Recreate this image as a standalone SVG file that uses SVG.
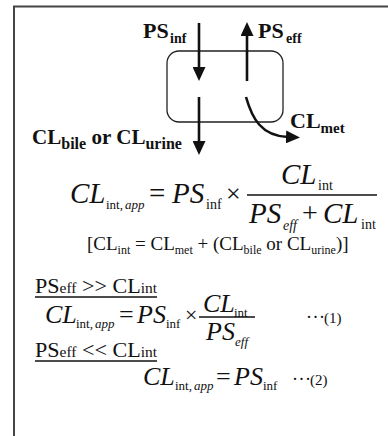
<svg xmlns="http://www.w3.org/2000/svg" width="388" height="436" viewBox="0 0 388 436">
<defs>
<style>
text{font-family:"Liberation Serif","Times New Roman",serif;fill:#111}
.b{font-weight:bold}
.i{font-style:italic}
.conn{fill:none;stroke:#111;stroke-width:2.6}
.rule{stroke:#111;stroke-width:1.3}
</style>
<marker id="ah" viewBox="0 0 14 13" refX="2" refY="6.5" markerWidth="14" markerHeight="13" markerUnits="userSpaceOnUse" orient="auto">
<path d="M0,0 L14,6.5 L0,13 z" fill="#111"/>
</marker>
</defs>
<rect width="388" height="436" fill="#fff"/>
<g id="frame" fill="none" stroke="#444" stroke-width="2">
<path d="M14,436 V6.5 H388"/>
</g>
<g id="cell">
<rect x="167" y="51" width="116" height="71" rx="12" fill="none" stroke="#222" stroke-width="1.3"/>
</g>
<g id="connectors">
<path class="conn" d="M199,23 V69" marker-end="url(#ah)"/>
<path class="conn" d="M247,81 V34" marker-end="url(#ah)"/>
<path class="conn" d="M199,97 V143" marker-end="url(#ah)"/>
<path class="conn" d="M246,97 C252,118 261,136 288,137" marker-end="url(#ah)"/>
</g>
<g id="label-ps-inf">
<text class="b" x="143" y="38" font-size="22">PS</text>
<text class="b" x="170" y="43" font-size="14">inf</text>
</g>
<g id="label-ps-eff">
<text class="b" x="258" y="38" font-size="22">PS</text>
<text class="b" x="286" y="43" font-size="14">eff</text>
</g>
<g id="label-cl-bile-urine">
<text class="b" x="32" y="144" font-size="21" textLength="150" lengthAdjust="spacingAndGlyphs">CL<tspan font-size="16" dy="5">bile</tspan><tspan dy="-5"> or CL</tspan><tspan font-size="16" dy="5">urine</tspan></text>
</g>
<g id="label-cl-met">
<text class="b" x="290" y="128" font-size="22">CL<tspan font-size="15" dy="5">met</tspan></text>
</g>
<g id="eq-main">
<text class="i" x="70" y="203" font-size="29">CL</text>
<text x="106" y="209" font-size="13">int,</text>
<text class="i" x="125" y="209" font-size="13">app</text>
<text x="149" y="203" font-size="29">=</text>
<text class="i" x="172" y="203" font-size="29">PS</text>
<text x="206" y="209" font-size="14">inf</text>
<text x="226" y="202" font-size="26">×</text>
<line class="rule" x1="247" y1="195" x2="377" y2="195"/>
<text class="i" x="281" y="184" font-size="29">CL</text>
<text x="318" y="190" font-size="14">int</text>
<text class="i" x="249" y="223" font-size="29">PS</text>
<text class="i" x="283" y="230" font-size="14">eff</text>
<text x="302" y="222" font-size="28">+</text>
<text class="i" x="323" y="223" font-size="29">CL</text>
<text x="361" y="229" font-size="14">int</text>
</g>
<g id="eq-def">
<text x="87" y="250" font-size="19">[CL<tspan font-size="12" dy="4">int</tspan><tspan dy="-4"> = CL</tspan><tspan font-size="12" dy="4">met</tspan><tspan dy="-4"> + (CL</tspan><tspan font-size="12" dy="4">bile</tspan><tspan dy="-4"> or CL</tspan><tspan font-size="12" dy="4">urine</tspan><tspan dy="-4">)]</tspan></text>
</g>
<g id="case-1">
<text x="35" y="293" font-size="20" textLength="122" lengthAdjust="spacingAndGlyphs">PS<tspan font-size="14">eff</tspan> &gt;&gt; CL<tspan font-size="14">int</tspan></text>
<line class="rule" x1="35" y1="297" x2="157" y2="297"/>
</g>
<g id="eq-1">
<text class="i" x="45" y="323" font-size="26">CL</text>
<text x="76" y="328" font-size="13">int,</text>
<text class="i" x="95" y="328" font-size="13">app</text>
<text x="119" y="323" font-size="26">=</text>
<text class="i" x="137" y="323" font-size="26">PS</text>
<text x="166" y="328" font-size="13">inf</text>
<text x="185" y="322" font-size="22">×</text>
<line class="rule" x1="199" y1="317" x2="255" y2="317"/>
<text class="i" x="203" y="312" font-size="26">CL</text>
<text x="234" y="317" font-size="13">int</text>
<text class="i" x="206" y="340" font-size="26">PS</text>
<text class="i" x="235" y="346" font-size="13">eff</text>
<text x="306" y="323" font-size="18" letter-spacing="0.5">···</text>
<text x="324" y="323" font-size="15">(1)</text>
</g>
<g id="case-2">
<text x="35" y="357" font-size="20" textLength="122" lengthAdjust="spacingAndGlyphs">PS<tspan font-size="14">eff</tspan> &lt;&lt; CL<tspan font-size="14">int</tspan></text>
<line class="rule" x1="35" y1="361" x2="157" y2="361"/>
</g>
<g id="eq-2">
<text class="i" x="143" y="385" font-size="26">CL</text>
<text x="175" y="390" font-size="13">int,</text>
<text class="i" x="194" y="390" font-size="13">app</text>
<text x="216" y="385" font-size="26">=</text>
<text class="i" x="234" y="385" font-size="26">PS</text>
<text x="263" y="390" font-size="13">inf</text>
<text x="292" y="385" font-size="18" letter-spacing="0.5">···</text>
<text x="310" y="385" font-size="15">(2)</text>
</g>
</svg>
